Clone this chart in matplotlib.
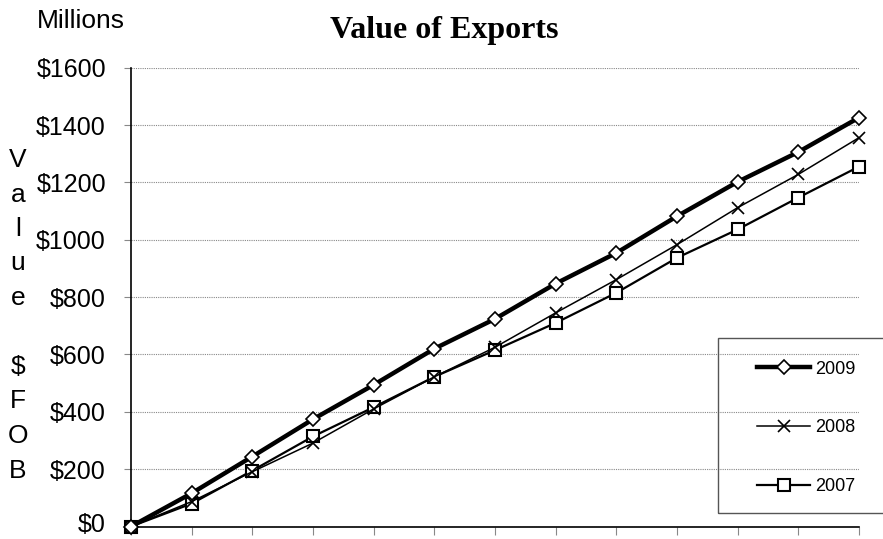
import matplotlib
matplotlib.use("Agg")
from matplotlib import pyplot as plt
from matplotlib.patches import Rectangle
from matplotlib.transforms import ScaledTranslation

# data (millions, $ FOB)
periodos = list(range(13))
exp_2009 = [0, 116, 244, 374, 494, 620, 724, 847, 954, 1082, 1202, 1306, 1426]
exp_2008 = [0, 87, 191, 291, 410, 522, 625, 745, 861, 983, 1112, 1228, 1356]
exp_2007 = [0, 80, 195, 314, 416, 522, 615, 710, 815, 937, 1036, 1147, 1255]
y_ticks = [0, 200, 400, 600, 800, 1000, 1200, 1400, 1600]
y_labels = ["$" + str(v) for v in y_ticks]

plt.rcParams['font.family'] = ['Liberation Sans', 'DejaVu Sans']

W, H = 883, 539
fig = plt.figure(figsize=(W / 100, H / 100), dpi=100)
ax = fig.add_axes([131 / W, 1 - 526.5 / H, 728 / W, 458.8 / H])

ax.plot(periodos, exp_2009, color='black', lw=3.2, marker='D', ms=7.5,
        mfc='white', mec='black', mew=1.2, label='2009', clip_on=False, zorder=5)
ax.plot(periodos, exp_2008, color='black', lw=1.1, marker='x', ms=9,
        mew=1.2, label='2008', clip_on=False, zorder=4)
ax.plot(periodos, exp_2007, color='black', lw=1.6, marker='s', ms=9,
        mfc='white', mec='black', mew=1.5, label='2007', clip_on=False, zorder=3)

ax.set_xlim(0, 12)
ax.set_ylim(0, 1600)
ax.set_yticks(y_ticks)
ax.set_yticklabels(y_labels, fontsize=18)
ax.set_xticks(periodos)
ax.set_xticklabels([])
ax.tick_params(axis='y', length=5, color='#888888', pad=13)
ax.tick_params(axis='x', length=6, color='#888888')
ax.grid(axis='y', linestyle=(0, (1, 1)), color='#888888', lw=0.8)
ax.set_axisbelow(True)
for s in ['top', 'right']:
    ax.spines[s].set_visible(False)
for s in ['left', 'bottom']:
    ax.spines[s].set_linewidth(1.2)

# subir un poco el "$0" para que no quede cortado abajo
lbl0 = ax.get_yticklabels()[0]
lbl0.set_transform(lbl0.get_transform() + ScaledTranslation(0, 3 / 72, fig.dpi_scale_trans))

# titulo y textos
fig.text(444.5 / W, 1 - 38 / H, 'Value of Exports', ha='center', va='baseline',
         fontsize=23, fontweight='bold', family='Liberation Serif')
fig.text(37 / W, 1 - 28 / H, 'Millions', ha='left', va='baseline', fontsize=19)
etiqueta = "Value $FOB"
for i, letra in enumerate(etiqueta):
    if letra == ' ':
        continue
    fig.text(18 / W, 1 - (167 + 34.5 * i) / H, letra, ha='center',
             va='baseline', fontsize=19)

# leyenda
fig.patches.append(Rectangle((718 / W, 1 - 513 / H), 200 / W, 175 / H,
                             transform=fig.transFigure, fill=False,
                             edgecolor='#555555', lw=1.0, zorder=10))
leg = ax.legend(loc='center left', bbox_to_anchor=(757 / W, 1 - 428 / H),
                bbox_transform=fig.transFigure, frameon=False, fontsize=13,
                borderpad=0, handlelength=2.94, handletextpad=0.28,
                labelspacing=2.32, borderaxespad=0)

fig.savefig('out.png', dpi=100)
